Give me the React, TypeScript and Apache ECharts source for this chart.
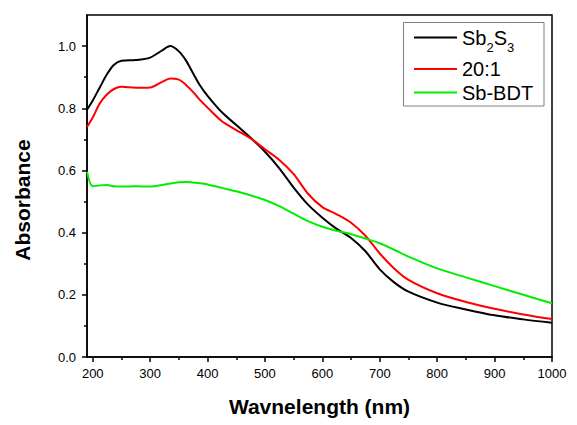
import { useEffect, useRef } from "react";
import * as echarts from "echarts";

// Wavelength (nm) sample positions
const wavelengths = [190, 200, 212, 225, 237, 250, 275, 300, 320, 335, 350, 362, 375, 387, 400, 425, 450, 475, 500, 525, 550, 575, 600, 625, 650, 675, 700, 725, 750, 800, 850, 900, 950, 1000];

// Absorbance values
const sb2s3 = [0.795, 0.825, 0.866, 0.91, 0.94, 0.953, 0.955, 0.963, 0.985, 1.0, 0.983, 0.955, 0.912, 0.873, 0.84, 0.787, 0.746, 0.705, 0.66, 0.607, 0.545, 0.49, 0.448, 0.412, 0.383, 0.34, 0.282, 0.24, 0.21, 0.175, 0.153, 0.134, 0.121, 0.11];
const ratio20to1 = [0.74, 0.77, 0.815, 0.845, 0.862, 0.869, 0.866, 0.867, 0.884, 0.896, 0.892, 0.876, 0.852, 0.826, 0.802, 0.758, 0.73, 0.703, 0.668, 0.634, 0.588, 0.525, 0.482, 0.459, 0.432, 0.39, 0.333, 0.285, 0.248, 0.205, 0.177, 0.155, 0.137, 0.122];
const sbBdt = [0.596, 0.549, 0.552, 0.553, 0.549, 0.548, 0.549, 0.548, 0.553, 0.558, 0.562, 0.563, 0.561, 0.559, 0.555, 0.544, 0.533, 0.52, 0.505, 0.485, 0.461, 0.437, 0.419, 0.406, 0.395, 0.381, 0.366, 0.345, 0.323, 0.285, 0.256, 0.228, 0.2, 0.173];

const seriesNames = ["Sb2S3", "20:1", "Sb-BDT"];
const seriesColors = ["#000000", "#ff0000", "#00ee00"];

// Tick values
const xMajorTicks = [200, 300, 400, 500, 600, 700, 800, 900, 1000];
const xMinorTicks = [250, 350, 450, 550, 650, 750, 850, 950];
const yMajorTicks = [0, 0.2, 0.4, 0.6, 0.8, 1.0];
const yMinorTicks = [0.1, 0.3, 0.5, 0.7, 0.9];

const FONT = '"Liberation Sans", Arial, Helvetica, sans-serif';

export default function App() {
  const ref = useRef<HTMLDivElement>(null);

  useEffect(() => {
    if (!ref.current) return;
    const chart = echarts.init(ref.current, null, { renderer: "svg" });
    const allData = [sb2s3, ratio20to1, sbBdt];

    const lineAxisStyle = { color: "#000", width: 1.5 };

    chart.setOption({
      animation: false,
      backgroundColor: "#ffffff",
      grid: {
        left: 87,
        right: 25,
        top: 15,
        bottom: 68,
        show: true,
        borderColor: "#000",
        borderWidth: 1.5,
        backgroundColor: "transparent",
      },
      legend: {
        orient: "vertical",
        left: 414,
        top: 27.5,
        padding: 0,
        itemGap: 3.6,
        itemWidth: 43,
        itemHeight: 2,
        icon: "rect",
        selectedMode: false,
        data: seriesNames,
        formatter: (name: string) =>
          name === "Sb2S3" ? "{n|Sb}{s|2}{n|S}{s|3}" : `{n|${name}}`,
        textStyle: {
          fontFamily: FONT,
          fontSize: 20,
          color: "#000",
          rich: {
            n: { fontFamily: FONT, fontSize: 20, lineHeight: 20, color: "#000" },
            s: {
              fontFamily: FONT,
              fontSize: 13,
              lineHeight: 35.6,
              color: "#000",
              verticalAlign: "bottom",
              padding: [0, 0, 1, 0],
            },
          },
        },
      },
      graphic: [
        {
          type: "rect",
          shape: { x: 403.5, y: 22.5, width: 140.5, height: 83.5 },
          style: { fill: "none", stroke: "#808080", lineWidth: 1 },
          z: 10,
        },
      ],
      xAxis: [
        {
          type: "value",
          min: 190,
          max: 1000,
          position: "bottom",
          name: "Wavnelength (nm)",
          nameLocation: "middle",
          nameGap: 39,
          nameTextStyle: {
            fontFamily: FONT,
            fontSize: 21,
            fontWeight: "bold",
            color: "#000",
          },
          axisLine: { show: true, onZero: false, lineStyle: lineAxisStyle },
          axisTick: {
            show: true,
            customValues: xMajorTicks,
            length: 5,
            lineStyle: lineAxisStyle,
          },
          axisLabel: {
            customValues: xMajorTicks,
            margin: 10,
            fontFamily: FONT,
            fontSize: 13,
            color: "#000",
            formatter: (v: number) => String(v),
          },
          splitLine: { show: false },
        },
        {
          type: "value",
          min: 190,
          max: 1000,
          position: "bottom",
          axisLine: { show: false, onZero: false },
          axisTick: {
            show: true,
            customValues: xMinorTicks,
            length: 3,
            lineStyle: lineAxisStyle,
          },
          axisLabel: { show: false },
          splitLine: { show: false },
        },
      ],
      yAxis: [
        {
          type: "value",
          min: 0,
          max: 1.1,
          position: "left",
          name: "Absorbance",
          nameLocation: "middle",
          nameGap: 54,
          nameTextStyle: {
            fontFamily: FONT,
            fontSize: 21,
            fontWeight: "bold",
            color: "#000",
            padding: [0, 28, 0, 0],
          },
          axisLine: { show: true, onZero: false, lineStyle: lineAxisStyle },
          axisTick: {
            show: true,
            customValues: yMajorTicks,
            length: 5,
            lineStyle: lineAxisStyle,
          },
          axisLabel: {
            customValues: yMajorTicks,
            margin: 11,
            fontFamily: FONT,
            fontSize: 13,
            color: "#000",
            formatter: (v: number) => v.toFixed(1),
          },
          splitLine: { show: false },
        },
        {
          type: "value",
          min: 0,
          max: 1.1,
          position: "left",
          axisLine: { show: false, onZero: false },
          axisTick: {
            show: true,
            customValues: yMinorTicks,
            length: 3,
            lineStyle: lineAxisStyle,
          },
          axisLabel: { show: false },
          splitLine: { show: false },
        },
      ],
      series: seriesNames.map((name, si) => ({
        name,
        type: "line",
        xAxisIndex: 0,
        yAxisIndex: 0,
        symbol: "none",
        smooth: 0.3,
        data: wavelengths.map((w, i) => [w, allData[si][i]]),
        lineStyle: { color: seriesColors[si], width: 2 },
        itemStyle: { color: seriesColors[si] },
      })),
    });

    return () => chart.dispose();
  }, []);

  return (
    <div
      ref={ref}
      style={{ position: "fixed", left: 0, top: 0, width: 577, height: 425, background: "#fff" }}
    />
  );
}
